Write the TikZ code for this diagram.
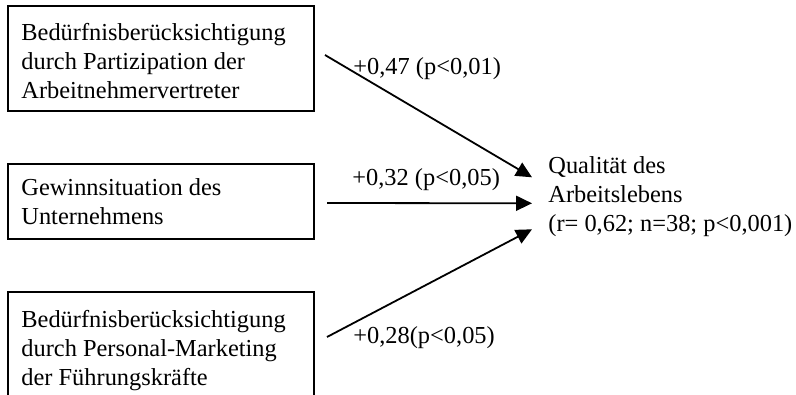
\documentclass[tikz,border=0pt]{standalone}
\usepackage{fontspec}
\setmainfont{Liberation Serif}
\usetikzlibrary{calc,arrows.meta}
\tikzset{
  box/.style={draw=black, line width=1pt, rectangle, inner sep=0pt, anchor=north west, minimum width=153pt},
  txt/.style={inner sep=0pt, anchor=north west, align=left, font=\fontsize{12.2}{14.5}\selectfont},
  lbl/.style={inner sep=0pt, anchor=base west, font=\fontsize{12.2}{14.5}\selectfont},
  arr/.style={line width=0.9pt, -{Triangle[length=8pt,width=7.5pt]}}
}
\begin{document}
\begin{tikzpicture}[x=0.5pt,y=-0.5pt]
\useasboundingbox (0,0) rectangle (796,395);
\clip (0,0) rectangle (796,395);
\fill[white] (0,0) rectangle (796,395);
% boxes
\node[box, minimum height=52.5pt] (b1) at (7,5) {};
\node[box, minimum height=37.5pt] (b2) at (7,163) {};
\node[box, minimum height=65pt] (b3) at (7,291) {};
% box texts
\node[txt] (t1) at (21,23.4) {Bedürfnisberücksichtigung\\durch Partizipation der\\Arbeitnehmervertreter};
\node[txt] (t2) at (21,178.3) {Gewinnsituation des\\Unternehmens};
\node[txt] (t3) at (21,310.3) {Bedürfnisberücksichtigung\\durch Personal-Marketing\\der Führungskräfte};
% target
\node[txt] (q) at (548,156.3) {Qualität des\\Arbeitslebens\\(r= 0,62; n=38; p<0,001)};
% arrows
\draw[arr] ($(b1.north east)+(10,50)$) -- ($(q.north west)+(-16,21)$);
\draw[arr] ($(b2.north east)+(12,40)$) -- ($(q.north west)+(-16,47)$);
\draw[arr] ($(b3.north east)+(12,46)$) -- ($(q.north west)+(-16,73)$);
% labels
\node[lbl] (l1) at (353,75) {+0,47 (p<0,01)};
\node[lbl] (l2) at (352,185) {+0,32 (p<0,05)};
\node[lbl] (l3) at (353,343) {+0,28(p<0,05)};
\end{tikzpicture}
\end{document}
